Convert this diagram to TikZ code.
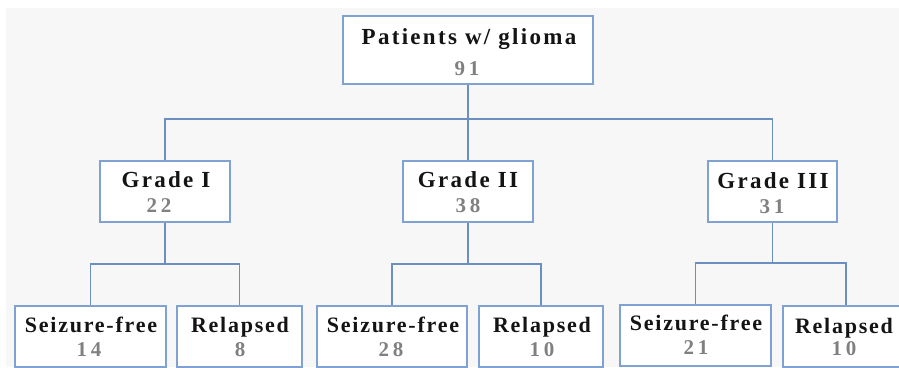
\documentclass[tikz,border=0pt]{standalone}
\usepackage{fontspec}
\setmainfont{Liberation Serif}
\newfontfamily\ttlfont{Liberation Serif}[LetterSpace=10]
\newfontfamily\ttlsmfont{Liberation Serif}[LetterSpace=8]
\newfontfamily\numfont{Liberation Serif}[LetterSpace=18]
\definecolor{bgc}{RGB}{247,247,247}
\definecolor{boxc}{RGB}{128,162,210}
\definecolor{linec}{RGB}{108,143,193}
\definecolor{numc}{RGB}{128,128,128}
\definecolor{txtc}{RGB}{20,20,20}
\tikzset{
  box/.style={draw=boxc, line width=1.3pt, fill=white, inner sep=0pt, rectangle},
  ttl/.style={inner sep=0pt, anchor=base, text=txtc, font=\fontsize{23}{27}\ttlfont\bfseries\selectfont},
  ttlsm/.style={inner sep=0pt, anchor=base, text=txtc, font=\fontsize{22}{26}\ttlsmfont\bfseries\selectfont},
  num/.style={inner sep=0pt, anchor=base, text=numc, font=\fontsize{21}{25}\numfont\bfseries\selectfont},
  conn/.style={draw=linec, line width=1.3pt}
}
\begin{document}
\begin{tikzpicture}[x=1pt,y=-1pt]
\path[use as bounding box, fill=white] (0,0) rectangle (899,367);
\begin{scope}
\clip (0,0) rectangle (899,367);
\fill[bgc] (6,8) rectangle (899,367);
% boxes
\node[box, minimum width=250pt, minimum height=68pt] (top) at (468,50) {};
\node[box, minimum width=130pt, minimum height=61pt] (g1) at (165,191.5) {};
\node[box, minimum width=130pt, minimum height=61pt] (g2) at (468,191.5) {};
\node[box, minimum width=129pt, minimum height=61pt] (g3) at (772.5,191.5) {};
\node[box, minimum width=151pt, minimum height=61pt] (s1) at (90.5,336.5) {};
\node[box, minimum width=125pt, minimum height=61pt] (r1) at (239.5,336.5) {};
\node[box, minimum width=150pt, minimum height=61pt] (s2) at (392,336.5) {};
\node[box, minimum width=124pt, minimum height=61pt] (r2) at (541,336.5) {};
\node[box, minimum width=151pt, minimum height=61pt] (s3) at (695.5,335.5) {};
\node[box, minimum width=126pt, minimum height=61pt] (r3) at (846,336.5) {};
% connectors
\draw[conn] (top.south) -- (top.south |- 0,119) -| (g1.north);
\draw[conn] (top.south |- 0,119) -| (g3.north);
\draw[conn] (top.south |- 0,119) -- (g2.north);
\draw[conn] (g1.south) -- (g1.south |- 0,264) -| (s1.north);
\draw[conn] (g1.south |- 0,264) -| (r1.north);
\draw[conn] (g2.south) -- (g2.south |- 0,264) -| (s2.north);
\draw[conn] (g2.south |- 0,264) -| (r2.north);
\draw[conn] (g3.south) -- (g3.south |- 0,263) -| (s3.north);
\draw[conn] (g3.south |- 0,263) -| (r3.north);
% texts
\node[ttl] (topt) at (469,44) {Patients w/ glioma};
\node[num] (topn) at (467,75) {91};
\node[ttl] (g1t) at (166,187) {Grade I};
\node[num] (g1n) at (159,212) {22};
\node[ttl] (g2t) at (468,187) {Grade II};
\node[num] (g2n) at (468,212) {38};
\node[ttl] (g3t) at (773,188) {Grade III};
\node[num] (g3n) at (772,213) {31};
\node[ttlsm] (s1t) at (91,332) {Seizure-free};
\node[num] (s1n) at (89,356) {14};
\node[ttlsm] (r1t) at (240,332) {Relapsed};
\node[num] (r1n) at (240,356) {8};
\node[ttlsm] (s2t) at (393,332) {Seizure-free};
\node[num] (s2n) at (391,356) {28};
\node[ttlsm] (r2t) at (542,332) {Relapsed};
\node[num] (r2n) at (542,356) {10};
\node[ttlsm] (s3t) at (696,330) {Seizure-free};
\node[num] (s3n) at (696,354) {21};
\node[ttlsm] (r3t) at (844,333) {Relapsed};
\node[num] (r3n) at (844,355) {10};
\end{scope}
\end{tikzpicture}
\end{document}
